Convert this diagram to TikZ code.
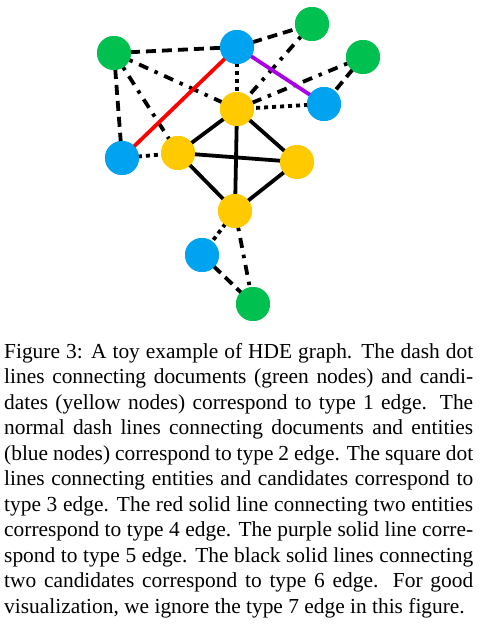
\documentclass[tikz,border=0pt]{standalone}
\usepackage{fontspec}
\setmainfont{Liberation Serif}
\definecolor{gnode}{RGB}{0,192,80}
\definecolor{bnode}{RGB}{0,163,240}
\definecolor{ynode}{RGB}{255,202,0}
\definecolor{pedge}{RGB}{170,0,230}
\begin{document}
\begin{tikzpicture}[x=1pt,y=-1pt,
  vtx/.style={circle,minimum size=34pt,inner sep=0pt},
  doc/.style={vtx,fill=gnode},
  ent/.style={vtx,fill=bnode},
  cand/.style={vtx,fill=ynode},
  edg/.style={line width=3.8pt},
  tdash/.style={edg,dash pattern=on 10pt off 6pt},
  tdashdot/.style={edg,dash pattern=on 10pt off 7pt on 3.5pt off 7pt},
  tdot/.style={edg,dash pattern=on 4pt off 4pt},
  tred/.style={edg,red},
  tpurple/.style={edg,pedge},
  tsolid/.style={edg,black}]
\useasboundingbox (0,0) rectangle (486,633);
% nodes
\node[doc] (G1) at (114,53) {};
\node[ent] (B1) at (237,47) {};
\node[doc] (G2) at (312,24) {};
\node[doc] (G3) at (363,57) {};
\node[ent] (B2) at (324,104) {};
\node[cand] (Y1) at (237,109) {};
\node[ent] (B3) at (122,158) {};
\node[cand] (Y2) at (178,153) {};
\node[cand] (Y3) at (297,162) {};
\node[cand] (Y4) at (235,211) {};
\node[ent] (B4) at (202,255) {};
\node[doc] (G4) at (253,304) {};
% edges
\draw[tdash] (G1.center) -- (B1.center);
\draw[tdash] (B1.center) -- (G2.center);
\draw[tdash] (G1.center) -- (B3.center);
\draw[tdash] (G3.center) -- (B2.center);
\draw[tdash] (B4.center) -- (G4.center);
\draw[tdashdot] (G1.center) -- (Y1.center);
\draw[tdashdot] (G1.center) -- (Y2.center);
\draw[tdashdot] (G2.center) -- (Y1.center);
\draw[tdashdot] (G3.center) -- (Y1.center);
\draw[tdashdot] (Y4.center) -- (G4.center);
\draw[tdot] (B1.center) -- (Y1.center);
\draw[tdot] (B2.center) -- (Y1.center);
\draw[tdot] (B3.center) -- (Y2.center);
\draw[tdot] (Y4.center) -- (B4.center);
\draw[tred] (B3.center) -- (B1.center);
\draw[tpurple] (B1.center) -- (B2.center);
\draw[tsolid] (Y1.center) -- (Y2.center);
\draw[tsolid] (Y1.center) -- (Y3.center);
\draw[tsolid] (Y1.center) -- (Y4.center);
\draw[tsolid] (Y2.center) -- (Y3.center);
\draw[tsolid] (Y2.center) -- (Y4.center);
\draw[tsolid] (Y3.center) -- (Y4.center);
% redraw nodes on top
\foreach \n/\s in {G1/doc,B1/ent,G2/doc,G3/doc,B2/ent,Y1/cand,B3/ent,Y2/cand,Y3/cand,Y4/cand,B4/ent,G4/doc}
  \node[\s] at (\n) {};
% caption
\node[anchor=north west,inner sep=0pt,text width=469pt,align=justify,
  font=\fontsize{21.4}{25.5}\selectfont] (cap) at (4,343)
{Figure 3: A toy example of HDE graph. The dash dot\linebreak
lines connecting documents (green nodes) and candi-\linebreak
dates (yellow nodes) correspond to type 1 edge. The\linebreak
normal dash lines connecting documents and entities\linebreak
(blue nodes) correspond to type 2 edge. The square dot\linebreak
lines connecting entities and candidates correspond to\linebreak
type 3 edge. The red solid line connecting two entities\linebreak
correspond to type 4 edge. The purple solid line corre-\linebreak
spond to type 5 edge. The black solid lines connecting\linebreak
two candidates correspond to type 6 edge. For good\linebreak
visualization, we ignore the type 7 edge in this figure.};
\end{tikzpicture}
\end{document}
